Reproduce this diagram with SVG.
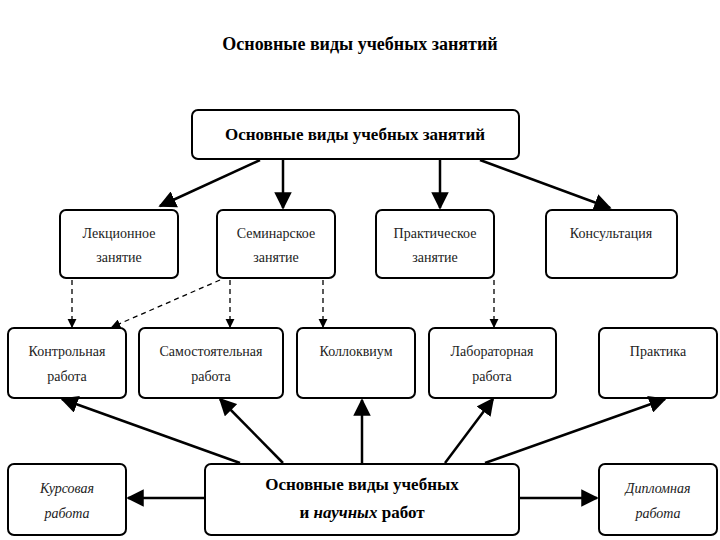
<svg xmlns="http://www.w3.org/2000/svg" width="720" height="540" viewBox="0 0 720 540">
<defs>
<marker id="a" viewBox="0 0 10 10" refX="9" refY="5" markerWidth="7" markerHeight="7" orient="auto"><path d="M0,0 L10,5 L0,10 z" fill="#000"/></marker>
<style>
.b{fill:#fff;stroke:#000;stroke-width:2}
.t{font-family:"Liberation Serif",serif;font-size:14px;text-anchor:middle;fill:#222}
.h{font-family:"Liberation Serif",serif;font-size:17px;font-weight:bold;text-anchor:middle}
.i{font-style:italic}
.s{stroke:#000;stroke-width:2.5;fill:none;marker-end:url(#a)}
.d{stroke:#000;stroke-width:1.3;stroke-dasharray:5,4;fill:none;marker-end:url(#a)}
</style>
</defs>
<rect width="720" height="540" fill="#fff"/>
<text x="360" y="50" class="h" style="font-size:18px">Основные виды учебных занятий</text>
<g id="top"><rect class="b" x="192" y="110" width="327" height="49" rx="6"/><text class="h" x="355" y="140">Основные виды учебных занятий</text></g>
<g id="lek"><rect class="b" x="60" y="210" width="118" height="68" rx="6"/><text class="t" x="119" y="238">Лекционное</text><text class="t" x="119" y="262">занятие</text></g>
<g id="sem"><rect class="b" x="217" y="210" width="118" height="68" rx="6"/><text class="t" x="276" y="238">Семинарское</text><text class="t" x="276" y="262">занятие</text></g>
<g id="pr"><rect class="b" x="376" y="210" width="118" height="68" rx="6"/><text class="t" x="435" y="238">Практическое</text><text class="t" x="435" y="262">занятие</text></g>
<g id="kons"><rect class="b" x="546" y="210" width="131" height="68" rx="6"/><text class="t" x="611" y="238">Консультация</text></g>
<g id="kr"><rect class="b" x="8" y="328" width="118" height="70" rx="6"/><text class="t" x="67" y="356">Контрольная</text><text class="t" x="67" y="381">работа</text></g>
<g id="sam"><rect class="b" x="139" y="328" width="144" height="70" rx="6"/><text class="t" x="211" y="356">Самостоятельная</text><text class="t" x="211" y="381">работа</text></g>
<g id="kol"><rect class="b" x="297" y="328" width="118" height="70" rx="6"/><text class="t" x="356" y="356">Коллоквиум</text></g>
<g id="lab"><rect class="b" x="429" y="328" width="127" height="70" rx="6"/><text class="t" x="492" y="356">Лабораторная</text><text class="t" x="492" y="381">работа</text></g>
<g id="prk"><rect class="b" x="599" y="328" width="118" height="70" rx="6"/><text class="t" x="658" y="356">Практика</text></g>
<g id="kurs"><rect class="b" x="8" y="464" width="118" height="71" rx="6"/><text class="t i" x="67" y="493">Курсовая</text><text class="t i" x="67" y="518">работа</text></g>
<g id="main"><rect class="b" x="205" y="464" width="314" height="71" rx="6"/><text class="h" x="362" y="490">Основные виды учебных</text><text class="h" x="362" y="518">и <tspan font-style="italic">научных</tspan> работ</text></g>
<g id="dipl"><rect class="b" x="599" y="464" width="118" height="71" rx="6"/><text class="t i" x="658" y="493">Дипломная</text><text class="t i" x="658" y="518">работа</text></g>
<g id="connectors">
<path class="s" d="M260,160 L160,206"/>
<path class="s" d="M283,160 L283,208"/>
<path class="s" d="M440,160 L440,208"/>
<path class="s" d="M480,160 L610,208"/>
<path class="d" d="M72,280 L72,327"/>
<path class="d" d="M220,280 L112,327"/>
<path class="d" d="M230,280 L230,327"/>
<path class="d" d="M323,280 L323,327"/>
<path class="d" d="M494,280 L494,327"/>
<path class="s" d="M240,463 L62,399"/>
<path class="s" d="M283,463 L220,399"/>
<path class="s" d="M362,463 L362,400"/>
<path class="s" d="M445,463 L493,399"/>
<path class="s" d="M485,463 L665,399"/>
<path class="s" d="M205,498 L128,498"/>
<path class="s" d="M519,498 L597,498"/>
</g>
</svg>
